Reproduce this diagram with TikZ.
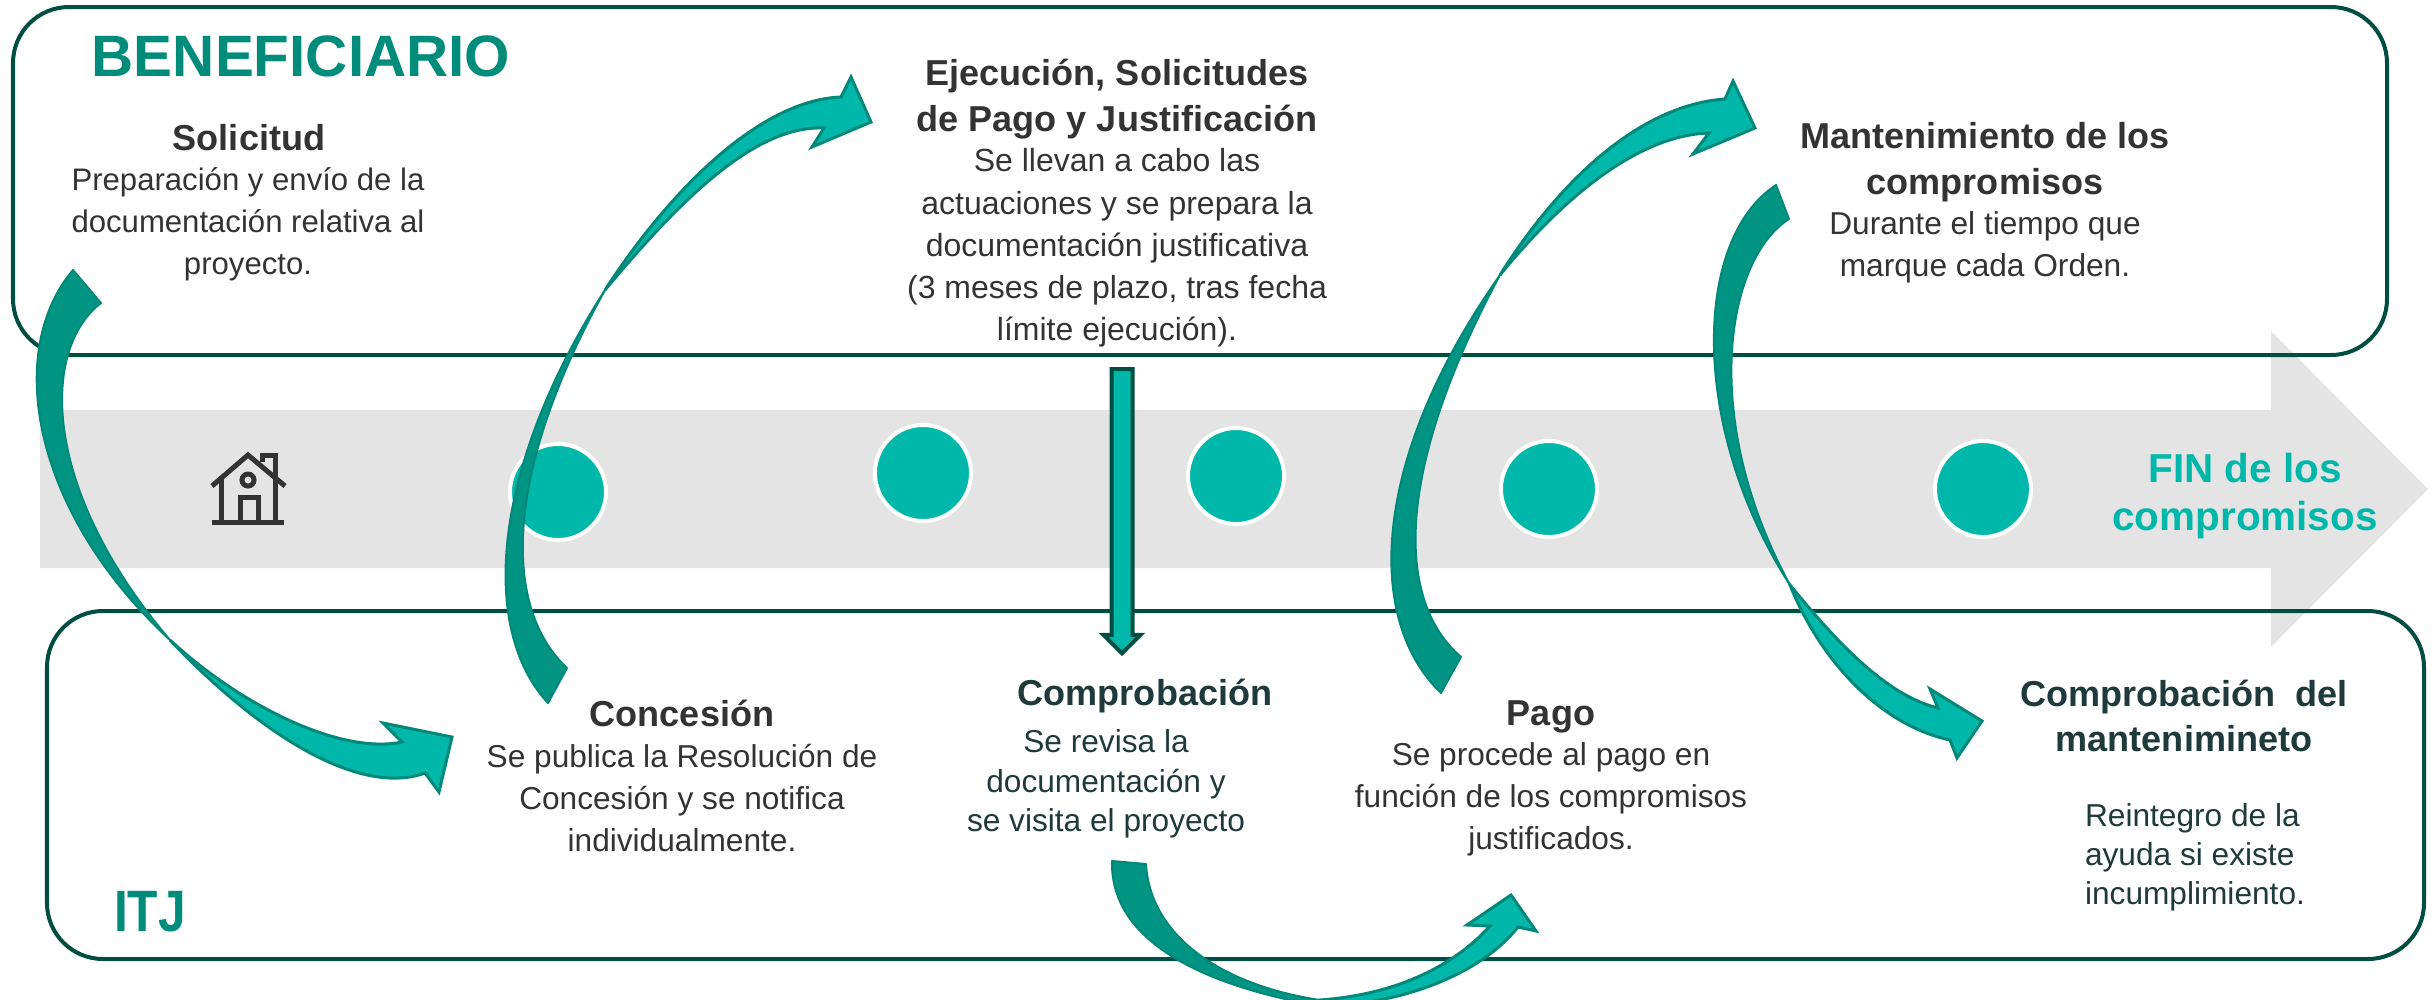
\documentclass[tikz,border=0pt]{standalone}
\usepackage{fontspec}
\setmainfont{Liberation Sans}
\usetikzlibrary{shapes.arrows}
\definecolor{oscuro}{HTML}{004D43}
\definecolor{turquesa}{HTML}{00B8A9}
\definecolor{verdecola}{HTML}{009483}
\definecolor{verdeborde}{HTML}{00897B}
\definecolor{verdetitulo}{HTML}{008C7A}
\definecolor{gris}{HTML}{E4E4E4}
\definecolor{texto}{HTML}{333333}
\definecolor{textodos}{HTML}{1F3A3A}
\begin{document}
\begin{tikzpicture}[x=0.01cm,y=-0.01cm,
  caja/.style={draw=oscuro,line width=0.04cm,rounded corners=0.56cm},
  hito/.style={circle,fill=turquesa,draw=white,line width=0.04cm,inner sep=0pt,minimum size=0.96cm},
  cola/.style={fill=verdecola,draw=verdeborde,line width=0.02cm,line join=round},
  punta/.style={fill=turquesa,draw=verdeborde,line width=0.03cm,line join=miter},
  casa/.style={draw=texto,line width=0.05cm},
  titulo/.style={font=\fontsize{10.25}{13}\selectfont\bfseries,text=texto,align=center,inner sep=0pt},
  cuerpo/.style={font=\fontsize{9}{12}\selectfont,text=texto,align=center,inner sep=0pt},
  actor/.style={font=\fontsize{16.6}{20}\selectfont\bfseries,text=verdetitulo,inner sep=0pt}]

  \useasboundingbox (0,0) rectangle (2435,999);

  % flecha gris
  \fill[gris] (40,410) -- (2271,410) -- (2271,331) -- (2428,489) -- (2271,647) -- (2271,568) -- (40,568) -- cycle;

  \foreach \i/\x/\y in {1/558/492,2/923/473,3/1236/476,4/1549/489,5/1983/489}
    \node[hito] (hito\i) at (\x,\y) {};

  % casa
  \draw[casa] (212,486) -- (248,455) -- (285,486);
  \draw[casa] (262,462) -- (262,455) -- (275,455) -- (275,480);
  \draw[casa] (221,476) -- (221,520) (275,476) -- (275,520);
  \draw[casa] (212,522) -- (284,522);
  \draw[casa] (240,520) -- (240,497) -- (258,497) -- (258,520);
  \draw[casa] (248,480) circle (0.06cm);

  \draw[caja] (13,7) rectangle (2387,355);
  \draw[caja] (47,611) rectangle (2424,959);

  \node[actor] (benef) at (301,56) {BENEFICIARIO};
  \node[actor,xscale=0.85] (itj) at (150,912) {ITJ};

  \node[titulo] (soltit) at (249,138) {Solicitud};
  \node[cuerpo,font=\fontsize{8.85}{12}\selectfont] (solbody) at (248,224) {Preparación y envío de la\\documentación relativa al\\proyecto.};

  \node[titulo] (ejetit) at (1117,99) {Ejecución, Solicitudes\\de Pago y Justificación};
  \node[cuerpo,font=\fontsize{9.1}{12}\selectfont] (ejebody) at (1117,248) {Se llevan a cabo las\\actuaciones y se prepara la\\documentación justificativa\\(3 meses de plazo, tras fecha\\límite ejecución).};

  \node[titulo] (mantit) at (1985,162) {Mantenimiento de los\\compromisos};
  \node[cuerpo] (manbody) at (1985,247) {Durante el tiempo que\\marque cada Orden.};

  \node[titulo] (contit) at (682,713) {Concesión};
  \node[cuerpo] (conbody) at (682,798) {Se publica la Resolución de\\Concesión y se notifica\\individualmente.};

  \node[titulo,text=textodos] (comtit) at (1145,696) {Comprobación};
  \node[cuerpo,text=textodos,font=\fontsize{9}{11.3}\selectfont] (combody) at (1106,784) {Se revisa la\\documentación y\\se visita el proyecto};

  \node[titulo] (pagtit) at (1551,717) {Pago};
  \node[cuerpo] (pagbody) at (1551,799) {Se procede al pago en\\función de los compromisos\\justificados.};

  \node[titulo,text=textodos,font=\fontsize{10.25}{12.6}\selectfont\bfseries] (cdmtit) at (2184,716) {Comprobación\ \ del\\mantenimineto};
  \node[cuerpo,text=textodos,align=left,font=\fontsize{9}{11.1}\selectfont] (cdmbody) at (2195,857) {Reintegro de la\\ayuda si existe\\incumplimiento.};

  \node[font=\fontsize{11.5}{13.5}\selectfont\bfseries,text=turquesa,align=center,inner sep=0pt] (fin) at (2245,496) {FIN de los\\compromisos};

  % flecha recta
  \node[single arrow,rotate=-90,fill=turquesa,draw=oscuro,line width=0.04cm,inner xsep=0pt,inner ysep=0.085cm,
    minimum height=2.84cm,single arrow head extend=0.08cm] (bajada) at (1122,506) {};

  % solicitud - concesion
  \path[punta] (170,640) .. controls (240,705) and (340,755) .. (402,742) -- (383,723) -- (452,737) -- (439,792) -- (425,773)
    .. controls (365,795) and (270,745) .. (170,640) -- cycle;
  \path[cola] (73,270) .. controls (5,350) and (30,510) .. (170,640) .. controls (42,490) and (40,350) .. (101,303) -- cycle;

  % concesion - ejecucion
  \path[punta] (605,290) .. controls (670,190) and (760,100) .. (841,97) -- (851,77) -- (871,122) -- (812,147) -- (824,128)
    .. controls (755,125) and (680,200) .. (605,290) -- cycle;
  \path[cola] (548,703) .. controls (480,630) and (490,470) .. (605,290) .. controls (500,480) and (505,610) .. (567,668) -- cycle;

  % pago - mantenimiento
  \path[punta] (1500,275) .. controls (1560,180) and (1640,105) .. (1725,99) -- (1733,81) -- (1755,128) -- (1693,154) -- (1709,133)
    .. controls (1640,135) and (1565,195) .. (1500,275) -- cycle;
  \path[cola] (1441,693) .. controls (1365,620) and (1370,460) .. (1500,275) .. controls (1395,470) and (1395,600) .. (1461,657) -- cycle;

  % mantenimiento - comprobacion
  \path[punta] (1790,585) .. controls (1835,640) and (1885,695) .. (1938,708) -- (1930,689) -- (1982,721) -- (1957,758) -- (1950,740)
    .. controls (1880,725) and (1820,660) .. (1790,585) -- cycle;
  \path[cola] (1776,185) .. controls (1692,240) and (1690,430) .. (1790,585) .. controls (1700,420) and (1725,260) .. (1789,219) -- cycle;

  % comprobacion - pago
  \path[punta] (1320,1006) .. controls (1400,1005) and (1480,975) .. (1518,927) -- (1536,931) -- (1511,895) -- (1467,925) -- (1490,926)
    .. controls (1450,970) and (1390,995) .. (1320,1000) -- cycle;
  \path[cola] (1112,861) .. controls (1110,940) and (1200,985) .. (1320,1006) -- (1320,1000) .. controls (1220,985) and (1150,935) .. (1146,864) -- cycle;
\end{tikzpicture}
\end{document}
